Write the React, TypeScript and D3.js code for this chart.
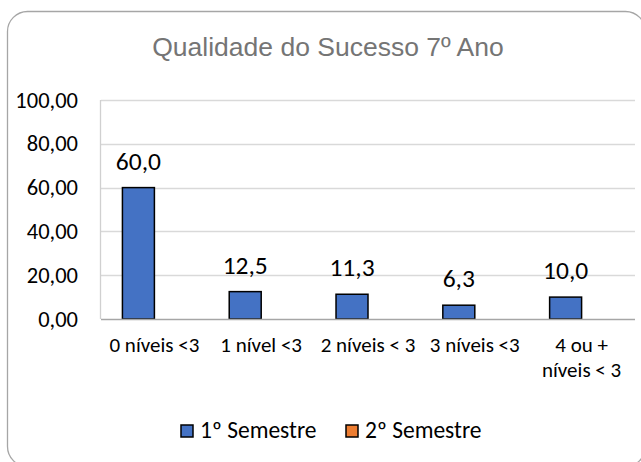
import React, { useEffect, useRef } from 'react';
import * as d3 from 'd3';

const categorias = ['0 níveis <3', '1 nível <3', '2 níveis < 3', '3 níveis <3', '4 ou + níveis < 3'];
const rotulosCategorias = [['0 níveis <3'], ['1 nível <3'], ['2 níveis < 3'], ['3 níveis <3'], ['4 ou +', 'níveis < 3']];
const series = ['1º Semestre', '2º Semestre'];
const semestre1 = [60.0, 12.5, 11.3, 6.3, 10.0];
const semestre2: (number | null)[] = [null, null, null, null, null];
const ticksY = [0, 20, 40, 60, 80, 100];

const cores = ['#4472C4', '#ED7D31'];
const fonteTexto = 'Carlito, Calibri, Lato, sans-serif';

export default function App() {
  const svgRef = useRef<SVGSVGElement | null>(null);

  useEffect(() => {
    const largura = 641;
    const altura = 462;
    const margem = { esq: 101, dir: 635, topo: 100, base: 319 };

    const svg = d3.select(svgRef.current);
    svg.selectAll('*').remove();

    svg.append('rect')
      .attr('width', largura)
      .attr('height', altura)
      .attr('fill', '#fff');

    // moldura arredondada
    svg.append('rect')
      .attr('x', 7.5)
      .attr('y', 11.5)
      .attr('width', 638)
      .attr('height', 455)
      .attr('rx', 20)
      .attr('fill', '#fff')
      .attr('stroke', '#A6A6A6')
      .attr('stroke-width', 1.3);

    svg.append('text')
      .attr('x', 328)
      .attr('y', 56)
      .attr('text-anchor', 'middle')
      .attr('fill', '#757575')
      .style('font-family', 'Liberation Sans, Arial, sans-serif')
      .style('font-size', '26.5px')
      .text('Qualidade do Sucesso 7º Ano');

    const y = d3.scaleLinear().domain([0, 100]).range([margem.base, margem.topo]);
    const x0 = d3.scaleBand<string>().domain(categorias).range([margem.esq, margem.dir]).padding(0);
    const x1 = d3.scaleBand<string>().domain(series).range([0, x0.bandwidth()]).paddingInner(0).paddingOuter(0.67);

    // grelha
    svg.append('g')
      .selectAll('line')
      .data(ticksY.filter(d => d > 0))
      .enter()
      .append('line')
      .attr('x1', margem.esq)
      .attr('x2', margem.dir)
      .attr('y1', d => Math.round(y(d)) + 0.5)
      .attr('y2', d => Math.round(y(d)) + 0.5)
      .attr('stroke', '#D9D9D9')
      .attr('stroke-width', 1.3);

    // eixo vertical
    svg.append('line')
      .attr('x1', margem.esq - 0.5)
      .attr('x2', margem.esq - 0.5)
      .attr('y1', y(100))
      .attr('y2', y(0))
      .attr('stroke', '#D0D0D0')
      .attr('stroke-width', 1.3);

    svg.append('g')
      .selectAll('text')
      .data(ticksY)
      .enter()
      .append('text')
      .attr('x', 78)
      .attr('y', d => y(d) + 7.5)
      .attr('text-anchor', 'end')
      .attr('fill', '#000')
      .style('font-family', fonteTexto)
      .style('font-size', '22.5px')
      .text(d => d3.format('.2f')(d).replace('.', ','));

    const valores = [semestre1, semestre2];
    const grupos = svg.append('g')
      .selectAll('g')
      .data(categorias)
      .enter()
      .append('g')
      .attr('transform', d => `translate(${x0(d)},0)`);

    grupos.selectAll('rect')
      .data((d, i) => series.map((s, k) => ({ serie: s, k, v: valores[k][i] })))
      .enter()
      .filter(d => d.v != null)
      .append('rect')
      .attr('x', d => x1(d.serie)!)
      .attr('width', x1.bandwidth())
      .attr('y', d => y(d.v as number))
      .attr('height', d => y(0) - y(d.v as number))
      .attr('fill', d => cores[d.k])
      .attr('stroke', '#000')
      .attr('stroke-width', 1.5);

    grupos.selectAll('text.valor')
      .data((d, i) => series.map((s, k) => ({ serie: s, k, v: valores[k][i] })))
      .enter()
      .filter(d => d.v != null)
      .append('text')
      .attr('class', 'valor')
      .attr('x', d => x1(d.serie)! + x1.bandwidth() / 2)
      .attr('y', d => y(d.v as number) - 18)
      .attr('text-anchor', 'middle')
      .attr('fill', '#000')
      .style('font-family', fonteTexto)
      .style('font-size', '25.5px')
      .text(d => d3.format('.1f')(d.v as number).replace('.', ','));

    // eixo horizontal
    svg.append('line')
      .attr('x1', margem.esq)
      .attr('x2', margem.dir)
      .attr('y1', y(0) + 0.5)
      .attr('y2', y(0) + 0.5)
      .attr('stroke', '#A6A6A6')
      .attr('stroke-width', 1.5);

    const rotulos = svg.append('g')
      .selectAll('text')
      .data(categorias)
      .enter()
      .append('text')
      .attr('text-anchor', 'middle')
      .attr('fill', '#000')
      .style('font-family', fonteTexto)
      .style('font-size', '21px');

    rotulos.selectAll('tspan')
      .data((d, i) => rotulosCategorias[i].map(l => ({ l, c: d })))
      .enter()
      .append('tspan')
      .attr('x', d => x0(d.c)! + x0.bandwidth() / 2)
      .attr('y', (d, j) => 352 + j * 25)
      .text(d => d.l);

    // legenda
    const legendaX = [181, 346];
    const legenda = svg.append('g')
      .selectAll('g')
      .data(series)
      .enter()
      .append('g')
      .attr('transform', (d, i) => `translate(${legendaX[i]},425)`);

    legenda.append('rect')
      .attr('width', 12)
      .attr('height', 12)
      .attr('fill', (d, i) => cores[i])
      .attr('stroke', '#000')
      .attr('stroke-width', 1.5);

    legenda.append('text')
      .attr('x', 19)
      .attr('y', 13)
      .attr('fill', '#000')
      .style('font-family', fonteTexto)
      .style('font-size', '23.5px')
      .text(d => d);
  }, []);

  return (
    <svg
      ref={svgRef}
      width={641}
      height={462}
      style={{ position: 'fixed', left: 0, top: 0, display: 'block' }}
    />
  );
}
